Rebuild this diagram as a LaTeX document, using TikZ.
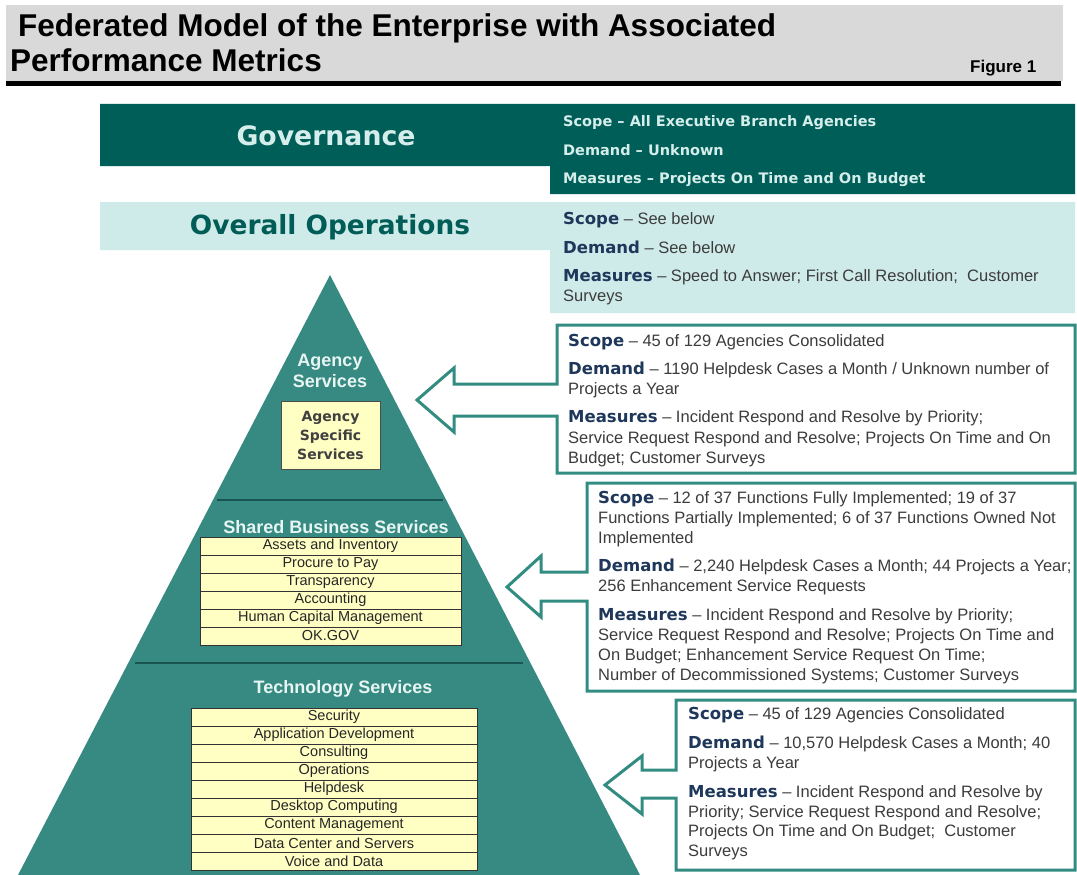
\documentclass[tikz,border=0pt]{standalone}
\usepackage{fontspec}
\setmainfont{Liberation Sans}
\newfontfamily\verd[Ligatures=TeX]{DejaVu Sans}
\definecolor{titlegray}{RGB}{217,217,217}
\definecolor{govdark}{RGB}{0,94,88}
\definecolor{govtext}{RGB}{214,238,235}
\definecolor{oplight}{RGB}{207,235,233}
\definecolor{optitle}{RGB}{0,92,86}
\definecolor{pyr}{RGB}{55,138,130}
\definecolor{pyrline}{RGB}{25,85,80}
\definecolor{ylw}{RGB}{255,255,196}
\definecolor{navy}{RGB}{30,55,90}
\definecolor{bodyg}{RGB}{60,60,60}
\definecolor{bordert}{RGB}{50,140,130}
\newcommand\hdr[1]{{\verd\bfseries\color{navy}#1}}
\begin{document}
\begin{tikzpicture}[x=1pt,y=-1pt,
  txt/.style={anchor=base west,inner sep=0pt,text=bodyg,font=\fontsize{16.5}{20}\selectfont},
  govt/.style={anchor=base west,inner sep=0pt,text=govtext,font=\verd\bfseries\fontsize{14.5}{18}\selectfont},
  pyrlbl/.style={inner sep=0pt,text=govtext!60!white,font=\bfseries\fontsize{18}{21}\selectfont,align=center},
  cell/.style={draw=black!80,line width=0.8pt,fill=ylw,inner sep=0pt,text=black!85,font=\fontsize{14.5}{17}\selectfont},
  callout/.style={draw=bordert,line width=3pt,fill=white,line join=miter},
  divider/.style={draw=pyrline,line width=1.2pt}]
\useasboundingbox (0,0) rectangle (1077,875);
% title banner
\fill[titlegray] (6,5) rectangle (1063,81);
\fill[black] (6,81) rectangle (1061,86);
\node[anchor=base west,inner sep=0pt,font=\bfseries\fontsize{31.5}{36}\selectfont] (t1) at (18,36.7) {Federated Model of the Enterprise with Associated};
\node[anchor=base west,inner sep=0pt,font=\bfseries\fontsize{31.5}{36}\selectfont] (t2) at (10,71.7) {Performance Metrics};
\node[anchor=base west,inner sep=0pt,font=\bfseries\fontsize{17}{20}\selectfont] (fig) at (970,73) {Figure 1};
% governance band
\fill[govdark] (100,104) -- (1075,104) -- (1075,194) -- (550,194) -- (550,166) -- (100,166) -- cycle;
\node[inner sep=0pt,text=govtext,font=\verd\bfseries\fontsize{26.7}{30}\selectfont] (gov) at (326,136) {Governance};
\node[govt] (g1) at (563,126) {Scope -- All Executive Branch Agencies};
\node[govt] (g2) at (563,155) {Demand -- Unknown};
\node[govt] (g3) at (563,183) {Measures -- Projects On Time and On Budget};
% overall operations band
\fill[oplight] (100,202) -- (1075,202) -- (1075,313) -- (550,313) -- (550,250) -- (100,250) -- cycle;
\node[inner sep=0pt,text=optitle,font=\verd\bfseries\fontsize{26.4}{30}\selectfont] (ops) at (330,227) {Overall Operations};
\node[txt] (o1) at (563,224) {\hdr{Scope} -- See below};
\node[txt] (o2) at (563,253) {\hdr{Demand} -- See below};
\node[txt] (o3) at (563,281) {\hdr{Measures} -- Speed to Answer; First Call Resolution;\ \ Customer};
\node[txt] (o4) at (563,301) {Surveys};
% pyramid
\fill[pyr] (330,275) -- (640,875) -- (18,875) -- cycle;
\draw[divider] (217,500) -- (443,500);
\draw[divider] (135,663) -- (523,663);
\node[pyrlbl] (ag) at (330,371) {Agency\\Services};
\node[draw=black!70,line width=0.8pt,fill=ylw,minimum width=99pt,minimum height=68pt,inner sep=0pt,align=center,
  font=\verd\bfseries\fontsize{14}{19}\selectfont,text=black!75] (agbox) at (330.5,435) {Agency\\Specific\\Services};
\node[pyrlbl] (sbs) at (336,527) {Shared Business Services};
\foreach \t [count=\i] in {Assets and Inventory,Procure to Pay,Transparency,Accounting,Human Capital Management,OK.GOV}
  \node[cell,minimum width=261pt,minimum height=18pt] (s\i) at (330.5,528+18*\i) {\t};
\node[pyrlbl] (tec) at (343,689) {Technology Services};
\foreach \t [count=\i] in {Security,Application Development,Consulting,Operations,Helpdesk,Desktop Computing,Content Management,Data Center and Servers,Voice and Data}
  \node[cell,minimum width=286pt,minimum height=18pt] (c\i) at (334,699+18*\i) {\t};
% callout 1
\draw[callout] (557,325) -- (1075,325) -- (1075,473) -- (557,473) -- (557,416) -- (454,416) -- (454,432) -- (417,400) -- (454,368) -- (454,384) -- (557,384) -- cycle;
\node[txt] (a1) at (568,346) {\hdr{Scope} -- 45 of 129 Agencies Consolidated};
\node[txt] (a2) at (568,374) {\hdr{Demand} -- 1190 Helpdesk Cases a Month / Unknown number of};
\node[txt] (a3) at (568,394) {Projects a Year};
\node[txt] (a4) at (568,422) {\hdr{Measures} -- Incident Respond and Resolve by Priority;};
\node[txt] (a5) at (568,443) {Service Request Respond and Resolve; Projects On Time and On};
\node[txt] (a6) at (568,463) {Budget; Customer Surveys};
% callout 2
\draw[callout] (587,483) -- (1075,483) -- (1075,691) -- (587,691) -- (587,601) -- (541,601) -- (541,617) -- (507,587) -- (541,556) -- (541,572) -- (587,572) -- cycle;
\node[txt] (b1) at (598,503) {\hdr{Scope} -- 12 of 37 Functions Fully Implemented; 19 of 37};
\node[txt] (b2) at (598,523) {Functions Partially Implemented; 6 of 37 Functions Owned Not};
\node[txt] (b3) at (598,543) {Implemented};
\node[txt] (b4) at (598,571) {\hdr{Demand} -- 2,240 Helpdesk Cases a Month; 44 Projects a Year;};
\node[txt] (b5) at (598,591) {256 Enhancement Service Requests};
\node[txt] (b6) at (598,620) {\hdr{Measures} -- Incident Respond and Resolve by Priority;};
\node[txt] (b7) at (598,640) {Service Request Respond and Resolve; Projects On Time and};
\node[txt] (b8) at (598,660) {On Budget; Enhancement Service Request On Time;};
\node[txt] (b9) at (598,680) {Number of Decommissioned Systems; Customer Surveys};
% callout 3
\draw[callout] (676,700) -- (1075,700) -- (1075,870) -- (676,870) -- (676,798) -- (642,798) -- (642,814) -- (605,785) -- (642,756) -- (642,770) -- (676,770) -- cycle;
\node[txt] (c1x) at (688,719) {\hdr{Scope} -- 45 of 129 Agencies Consolidated};
\node[txt] (c2x) at (688,748) {\hdr{Demand} -- 10,570 Helpdesk Cases a Month; 40};
\node[txt] (c3x) at (688,768) {Projects a Year};
\node[txt] (c4x) at (688,797) {\hdr{Measures} -- Incident Respond and Resolve by};
\node[txt] (c5x) at (688,817) {Priority; Service Request Respond and Resolve;};
\node[txt] (c6x) at (688,836) {Projects On Time and On Budget;\ \ Customer};
\node[txt] (c7x) at (688,856) {Surveys};
\end{tikzpicture}
\end{document}
